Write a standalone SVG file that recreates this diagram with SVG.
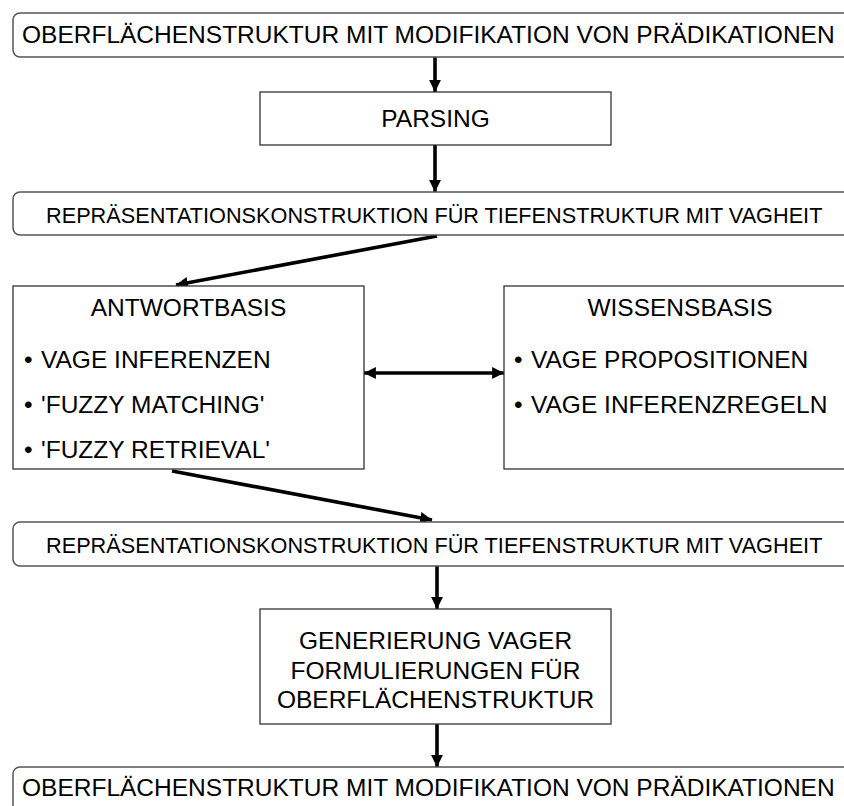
<svg xmlns="http://www.w3.org/2000/svg" width="844" height="806" viewBox="0 0 844 806">
<style>
text{font-family:"Liberation Sans",Arial,sans-serif;fill:#000}
.big{font-size:24.5px}
.mid{font-size:21.7px}
.rbox{fill:#fff;stroke:#555;stroke-width:1.5}
.box{fill:#fff;stroke:#333;stroke-width:1.3}
.con{stroke:#000;stroke-width:3.6;fill:none}
</style>
<defs>
<marker id="ah" viewBox="0 0 10 10" refX="10" refY="5" markerWidth="3.3" markerHeight="3.3" orient="auto-start-reverse" markerUnits="strokeWidth">
<path d="M0,0 L10,5 L0,10 z" fill="#000"/>
</marker>
</defs>
<rect width="844" height="806" fill="#fff"/>
<g id="connectors">
<line class="con" x1="435" y1="57" x2="435" y2="92" marker-end="url(#ah)"/>
<line class="con" x1="435" y1="145" x2="435" y2="192" marker-end="url(#ah)"/>
<line class="con" x1="437" y1="236" x2="176" y2="285" marker-end="url(#ah)"/>
<line class="con" x1="364" y1="373" x2="504" y2="373" marker-start="url(#ah)" marker-end="url(#ah)"/>
<line class="con" x1="172" y1="471" x2="432" y2="520" marker-end="url(#ah)"/>
<line class="con" x1="437" y1="566" x2="437" y2="609" marker-end="url(#ah)"/>
<line class="con" x1="437" y1="724" x2="437" y2="767" marker-end="url(#ah)"/>
</g>
<g id="n1">
<rect class="rbox" x="13" y="13" width="850" height="44" rx="7"/>
<text class="big" x="22" y="43">OBERFLÄCHENSTRUKTUR MIT MODIFIKATION VON PRÄDIKATIONEN</text>
</g>
<g id="n2">
<rect class="box" x="260" y="92" width="351" height="53"/>
<text class="big" x="435.5" y="127" text-anchor="middle">PARSING</text>
</g>
<g id="n3">
<rect class="rbox" x="13" y="192" width="850" height="43" rx="7"/>
<text class="mid" x="46" y="222.5">REPRÄSENTATIONSKONSTRUKTION FÜR TIEFENSTRUKTUR MIT VAGHEIT</text>
</g>
<g id="n4">
<rect class="box" x="13" y="286" width="351" height="183"/>
<text class="big" x="188.5" y="316" text-anchor="middle">ANTWORTBASIS</text>
<text class="big" x="24" y="368">•</text><text class="big" x="41" y="368">VAGE INFERENZEN</text>
<text class="big" x="24" y="413">•</text><text class="big" x="41" y="413">'FUZZY MATCHING'</text>
<text class="big" x="24" y="458">•</text><text class="big" x="41" y="458">'FUZZY RETRIEVAL'</text>
</g>
<g id="n5">
<rect class="box" x="504" y="286" width="360" height="183"/>
<text class="big" x="680" y="316" text-anchor="middle">WISSENSBASIS</text>
<text class="big" x="514" y="368">•</text><text class="big" x="531" y="368">VAGE PROPOSITIONEN</text>
<text class="big" x="514" y="413">•</text><text class="big" x="531" y="413">VAGE INFERENZREGELN</text>
</g>
<g id="n6">
<rect class="rbox" x="13" y="522" width="850" height="44" rx="7"/>
<text class="mid" x="46" y="552.5">REPRÄSENTATIONSKONSTRUKTION FÜR TIEFENSTRUKTUR MIT VAGHEIT</text>
</g>
<g id="n7">
<rect class="box" x="260" y="609" width="351" height="115"/>
<text class="big" x="435.5" y="649" text-anchor="middle">GENERIERUNG VAGER</text>
<text class="big" x="435.5" y="678.5" text-anchor="middle">FORMULIERUNGEN FÜR</text>
<text class="big" x="435.5" y="708" text-anchor="middle">OBERFLÄCHENSTRUKTUR</text>
</g>
<g id="n8">
<rect class="rbox" x="13" y="767" width="850" height="50" rx="7"/>
<text class="big" x="22" y="796">OBERFLÄCHENSTRUKTUR MIT MODIFIKATION VON PRÄDIKATIONEN</text>
</g>
</svg>
